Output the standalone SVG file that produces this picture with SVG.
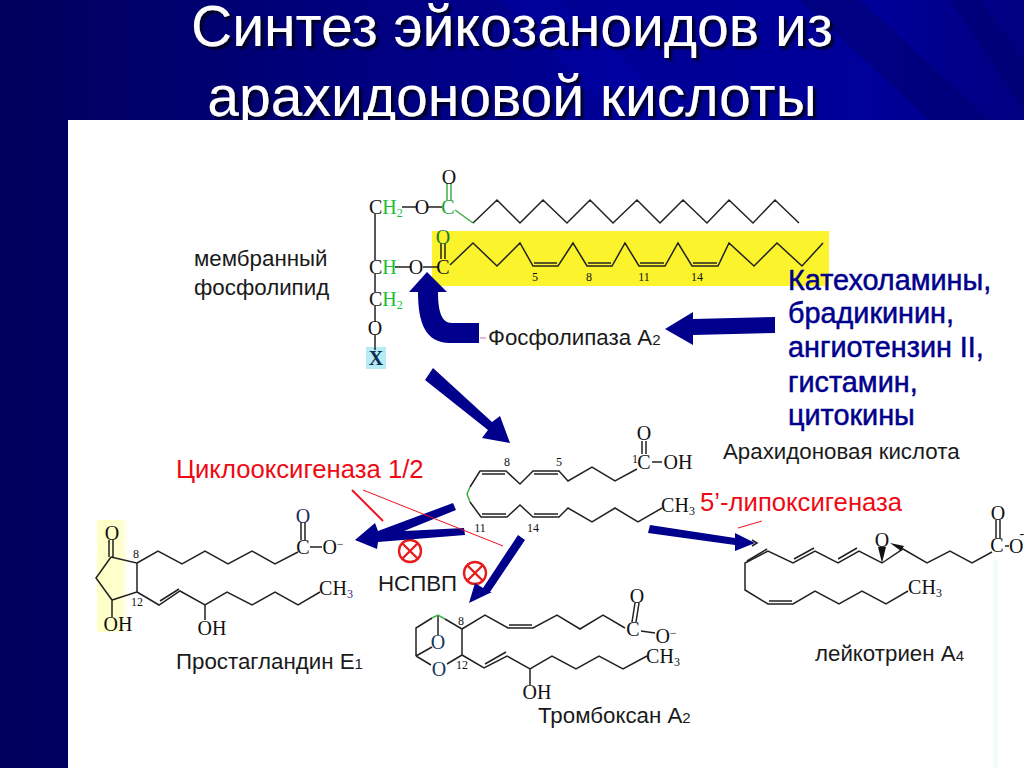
<svg xmlns="http://www.w3.org/2000/svg" width="1024" height="768" viewBox="0 0 1024 768">
<style>
.b{fill:none;stroke:#222;stroke-width:1.5;stroke-linejoin:miter}
.g{fill:none;stroke:#3cb043;stroke-width:1.5}
.a{font-family:"Liberation Serif",serif;font-size:20px;fill:#111;text-anchor:middle}
.n{font-family:"Liberation Serif",serif;font-size:12px;fill:#111;text-anchor:middle}
.h{fill:#18c030}
.l{font-family:"Liberation Sans",Arial,sans-serif;font-size:22.3px;fill:#1a1a1a}
.s{font-size:15px}
.r{font-family:"Liberation Sans",Arial,sans-serif;font-size:25.7px;fill:#ee0a14}
.k{font-family:"Liberation Sans",Arial,sans-serif;font-size:28.8px;fill:#00008c;stroke:#00008c;stroke-width:.5}
.t{font-family:"Liberation Sans",Arial,sans-serif;font-size:57px;fill:#fff;text-anchor:middle}
.ar{fill:#00008c}
.rl{stroke:#ee1122;fill:none}
.x{fill:none;stroke:#e61c1c;stroke-width:2.4}
</style>
<defs>
<linearGradient id="bg" x1="0" y1="0" x2="1" y2="0">
<stop offset="0" stop-color="#00005c"/><stop offset="0.3" stop-color="#00007a"/><stop offset="0.6" stop-color="#000096"/><stop offset="0.85" stop-color="#00009a"/><stop offset="1" stop-color="#000080"/>
</linearGradient>
<linearGradient id="glow" x1="0" y1="0" x2="1" y2="0">
<stop offset="0" stop-color="#ffffc8"/><stop offset="0.75" stop-color="#ffffcc"/><stop offset="1" stop-color="#ffffff"/>
</linearGradient>
<filter id="sh" x="-5%" y="-20%" width="110%" height="140%">
<feDropShadow dx="3" dy="3" stdDeviation="1.2" flood-color="#000022"/>
</filter>
</defs>

<g id="background">
<rect width="1024" height="768" fill="url(#bg)"/>
<path d="M800,0H860L1000,130H940Z M950,0H980L1024,60V110Z" fill="#000070" opacity=".55"/>
<path d="M500,0H560L690,120H620Z" fill="#0000a8" opacity=".45"/>
</g>
<g id="title" filter="url(#sh)">
<text class="t" x="512" y="46">Синтез эйкозаноидов из</text>
<text class="t" x="512" y="116">арахидоновой кислоты</text>
</g>
<g id="panel">
<rect x="68" y="120" width="956" height="648" fill="#fff"/>
<rect x="993" y="560" width="5" height="208" fill="#f4fbfd"/>
<rect x="432" y="231" width="397" height="55" fill="#fbf42c"/>
<rect x="366" y="347" width="20" height="22" fill="#b5ecf6"/>
<rect x="97" y="520" width="32" height="112" fill="url(#glow)"/>
</g>

<g id="phospholipid">
<path class="b" d="M402,207H416M428,207H442M375,214V260M395,267H410M423,267H438M375,274V292M375,306V322M375,335V350"/>
<path class="g" d="M447,183V200M451,183V200M455,210L473,223"/>
<path class="b" d="M441,243V259M445,243V259"/>
<path class="b" d="M473,223L497,200L520,223L543,200L567,223L590,200L613,223L637,200L660,223L683,200L707,223L729,200L753,223L775,200L799,223"/>
<path class="b" d="M450,265L473,243L497,266L520,243L533,266H558L573,243L587,266H612L625,243L639,266H665L678,243L692,266H718L729,243L754,266L777,243L802,266L823,243"/>
<path class="b" d="M534,263H557M588,263H611M640,263H664M693,263H717"/>
<text class="a" x="369" y="214" style="text-anchor:start">C<tspan class="h">H<tspan font-size="12" dy="3">2</tspan></tspan></text>
<text class="a" x="422" y="214">O</text>
<text class="a" x="448" y="214" style="fill:#18a030">C</text>
<text class="a" x="449" y="184">O</text>
<text class="a" x="369" y="274" style="text-anchor:start">C<tspan class="h">H</tspan></text>
<text class="a" x="416" y="274">O</text>
<text class="a" x="443" y="274">C</text>
<text class="a" x="443" y="244" style="fill:#1f7a2a">O</text>
<text class="a" x="369" y="306" style="text-anchor:start">C<tspan class="h">H<tspan font-size="12" dy="3">2</tspan></tspan></text>
<text class="a" x="375" y="335">O</text>
<text class="a" x="376" y="365" font-weight="bold" style="fill:#0a2c50">X</text>
<text class="n" x="535" y="281">5</text>
<text class="n" x="589" y="281">8</text>
<text class="n" x="644" y="281">11</text>
<text class="n" x="697" y="281">14</text>
<text class="l" x="194" y="266">мембранный</text>
<text class="l" x="194" y="295">фосфолипид</text>
</g>

<g id="phospholipase">
<text class="l" x="488" y="345">Фосфолипаза А<tspan class="s">2</tspan></text>
</g>

<g id="activators">
<text class="k" x="788" y="290">Катехоламины,</text>
<text class="k" x="788" y="323">брадикинин,</text>
<text class="k" x="788" y="357">ангиотензин II,</text>
<text class="k" x="788" y="392">гистамин,</text>
<text class="k" x="788" y="425">цитокины</text>
</g>

<g id="arachidonic">
<path class="b" d="M642,441V454M646,441V454M652,462H662M637,469L615,481L592,467L568,481L559,471H533L520,484L506,471H480L470,487"/>
<path class="g" d="M470,487L467,494L470,502"/>
<path class="b" d="M470,502L481,517H507L520,505L533,517H559L568,508L592,522L615,508L638,522L662,508"/>
<path class="b" d="M534,474H558M482,474H505M482,514H506M534,514H558"/>
<text class="a" x="644" y="440">O</text>
<text class="a" x="644" y="469">C</text>
<text class="n" x="635" y="463">1</text>
<text class="a" x="678" y="469">OH</text>
<text class="a" x="678" y="512">CH<tspan font-size="12" dy="3">3</tspan></text>
<text class="n" x="507" y="466">8</text>
<text class="n" x="559" y="466">5</text>
<text class="n" x="480" y="532">11</text>
<text class="n" x="533" y="532">14</text>
<text class="l" x="723" y="459">Арахидоновая кислота</text>
</g>

<g id="prostaglandin">
<path class="b" d="M109,540V557M113,540V557M111,557L137,563V592L112,600L96,578L111,557M112,600V617"/>
<path class="b" d="M137,563L158,551L182,564L205,551L228,564L252,551L275,564L298,552"/>
<path class="b" d="M137,592L159,605L180,591L205,605L227,592L252,605L275,592L298,605L320,592M160,601L179,589M205,605V620"/>
<path class="b" d="M301,522V540M305,522V540M310,547H322"/>
<text class="a" x="112" y="540">O</text>
<text class="a" x="118" y="631">OH</text>
<text class="a" x="212" y="635">OH</text>
<text class="a" x="303" y="554">C</text>
<text class="a" x="303" y="523" style="fill:#1a2a60">O</text>
<text class="a" x="333" y="554">O<tspan font-size="12" dy="-6">−</tspan></text>
<text class="a" x="336" y="595">CH<tspan font-size="12" dy="3" style="fill:#2a2a90">3</tspan></text>
<text class="n" x="136" y="558">8</text>
<text class="n" x="137" y="606">12</text>
<text class="l" x="176" y="669">Простагландин Е<tspan class="s">1</tspan></text>
</g>

<g id="thromboxane">
<path class="b" d="M416,656V628L432,618M445,619L462,629V655M438,615V635M416,656L432,647M416,656L431,665M447,664L462,655"/>
<path class="g" d="M432,618L438,615L445,619"/>
<path class="b" d="M462,629L485,615L508,628H533L557,615L580,629L603,615L625,628M509,625H532"/>
<path class="b" d="M462,655L484,668L507,656L530,669L552,656L576,669L599,656L623,669L647,656M485,664L506,652M530,669V685"/>
<path class="b" d="M632,622L635,603M636,622L639,603M641,631L655,633"/>
<text class="a" x="438" y="649" style="fill:#143a60">O</text>
<text class="a" x="439" y="676" style="fill:#143a60">O</text>
<text class="a" x="633" y="636">C</text>
<text class="a" x="637" y="603">O</text>
<text class="a" x="666" y="643">O<tspan font-size="12" dy="-6">−</tspan></text>
<text class="a" x="663" y="663">CH<tspan font-size="12" dy="3">3</tspan></text>
<text class="a" x="537" y="699">OH</text>
<text class="n" x="461" y="625">8</text>
<text class="n" x="462" y="669">12</text>
<text class="l" x="538" y="723">Тромбоксан А<tspan class="s">2</tspan></text>
</g>

<g id="leukotriene">
<path class="b" d="M996,520V538M1000,520V538M1005,546H1009M992,552L972,563L950,551L927,563L903,549L882,563L859,551L838,563L815,551L793,563L768,551L745,563V590L768,604H793L815,591L839,604L862,591L886,604L908,591"/>
<path class="b" d="M838,559L857,548M794,559L814,548M747,561L767,549M769,601H792"/>
<path d="M882,563L878,547H886ZM890,543L904,546L901,551Z" fill="#111"/>
<text class="a" x="882" y="547">O</text>
<text class="a" x="998" y="520">O</text>
<text class="a" x="997" y="552">C</text>
<text class="a" x="1009" y="553" style="text-anchor:start">O<tspan font-size="14" dx="-4" dy="-15">-</tspan></text>
<text class="a" x="925" y="594">CH<tspan font-size="12" dy="3">3</tspan></text>
<text class="l" x="815" y="661">лейкотриен А<tspan class="s">4</tspan></text>
</g>

<g id="enzymes">
<text class="r" x="176" y="478">Циклооксигеназа 1/2</text>
<text class="r" x="700" y="511">5’-липоксигеназа</text>
<text class="l" x="378" y="591">НСПВП</text>
</g>

<g id="inhibitors">
<g id="inhibitor-1"><circle class="x" cx="410" cy="551" r="11"/><path class="x" d="M402,543L418,559M418,543L402,559"/></g>
<g id="inhibitor-2"><circle class="x" cx="475" cy="573" r="11"/><path class="x" d="M467,565L483,581M483,565L467,581"/></g>
</g>

<g id="connectors">
<path d="M480,338H486" stroke="#d070c0" stroke-width="1" fill="none"/>
<path class="ar" d="M418,292C418,322 425,343 450,343H479V323H452C441,323 438,310 438,292H447L427,272L409,292Z"/>
<path class="ar" d="M775,317L693,319V312L665,329L693,345V335L775,333Z"/>
<path class="ar" d="M433,368L492,422L500,416L510,443L482,438L488,430L425,380Z"/>
<path class="ar" d="M355,540L375,523L378,531L453,503L456,510L404,531L464,528L465,535L378,542L377,549Z"/>
<path class="ar" d="M518,535L525,540L490,592L492,592L469,603L475,583L483,588Z"/>
<path class="ar" d="M650,525L648,533L735,545V551L755,543L735,533V538Z"/>
<path d="M752,540L757,543L752,546" class="b"/>
<path class="rl" stroke-width="2" d="M352,490L383,521"/>
<path class="rl" stroke-width="1" d="M363,490L503,546M738,528L762,521"/>
</g>
</svg>
